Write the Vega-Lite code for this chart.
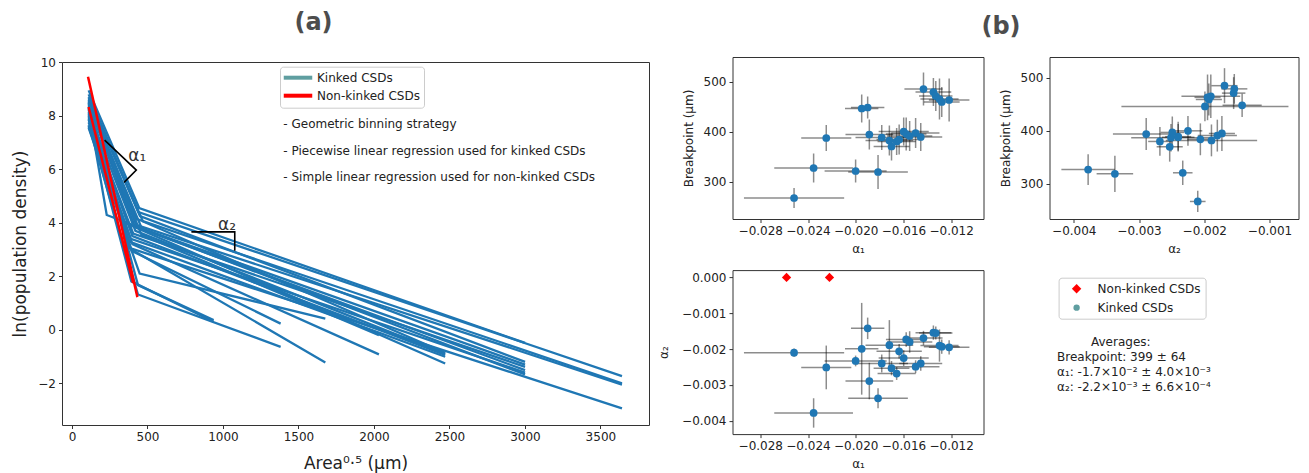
{
  "$schema": "https://vega.github.io/schema/vega-lite/v6.json",
  "background": "white",
  "padding": {"left": 11, "top": 10, "right": 5, "bottom": 5},
  "config": {
    "font": "DejaVu Sans",
    "view": {"stroke": "#333333", "strokeWidth": 1},
    "axis": {"domain": false, "grid": false, "ticks": true, "tickColor": "#333333", "tickSize": 3.5, "tickWidth": 1, "labelColor": "#222222", "labelFontSize": 12, "labelPadding": 3, "titleColor": "#222222", "titleFontWeight": "normal", "labelFont": "DejaVu Sans", "titleFont": "DejaVu Sans", "titleFontSize": 12},
    "legend": {"labelFont": "DejaVu Sans", "labelFontSize": 12, "labelColor": "#222222"},
    "title": {"font": "DejaVu Sans"}
  },
  "datasets": {
    "kinkedLines": [
      {"id": 1, "x": 110, "y": 8.95}, {"id": 1, "x": 445, "y": 4.55}, {"id": 1, "x": 3001, "y": -0.49},
      {"id": 2, "x": 110, "y": 8.80}, {"id": 2, "x": 440, "y": 4.40}, {"id": 2, "x": 3643, "y": -1.73},
      {"id": 3, "x": 110, "y": 8.60}, {"id": 3, "x": 425, "y": 4.15}, {"id": 3, "x": 3643, "y": -2.00},
      {"id": 4, "x": 110, "y": 8.45}, {"id": 4, "x": 410, "y": 3.95}, {"id": 4, "x": 3643, "y": -2.05},
      {"id": 5, "x": 110, "y": 8.10}, {"id": 5, "x": 385, "y": 3.05}, {"id": 5, "x": 3643, "y": -2.94},
      {"id": 6, "x": 110, "y": 8.70}, {"id": 6, "x": 450, "y": 4.25}, {"id": 6, "x": 3001, "y": -1.20},
      {"id": 7, "x": 110, "y": 8.25}, {"id": 7, "x": 230, "y": 4.29}, {"id": 7, "x": 3001, "y": -1.67},
      {"id": 8, "x": 110, "y": 8.40}, {"id": 8, "x": 430, "y": 3.85}, {"id": 8, "x": 3001, "y": -1.30},
      {"id": 9, "x": 110, "y": 7.95}, {"id": 9, "x": 405, "y": 3.60}, {"id": 9, "x": 3001, "y": -1.39},
      {"id": 10, "x": 110, "y": 8.55}, {"id": 10, "x": 465, "y": 3.75}, {"id": 10, "x": 3001, "y": -1.51},
      {"id": 11, "x": 110, "y": 7.75}, {"id": 11, "x": 390, "y": 3.40}, {"id": 11, "x": 3001, "y": -1.60},
      {"id": 12, "x": 110, "y": 8.65}, {"id": 12, "x": 470, "y": 4.05}, {"id": 12, "x": 2472, "y": -0.86},
      {"id": 13, "x": 110, "y": 8.15}, {"id": 13, "x": 420, "y": 3.70}, {"id": 13, "x": 2472, "y": -0.90},
      {"id": 14, "x": 110, "y": 8.00}, {"id": 14, "x": 400, "y": 3.50}, {"id": 14, "x": 2472, "y": -0.94},
      {"id": 15, "x": 110, "y": 7.60}, {"id": 15, "x": 380, "y": 3.30}, {"id": 15, "x": 2472, "y": -1.01},
      {"id": 16, "x": 110, "y": 8.30}, {"id": 16, "x": 330, "y": 4.05}, {"id": 16, "x": 2472, "y": -1.26},
      {"id": 17, "x": 110, "y": 8.50}, {"id": 17, "x": 460, "y": 3.55}, {"id": 17, "x": 2033, "y": -0.20},
      {"id": 18, "x": 110, "y": 7.85}, {"id": 18, "x": 400, "y": 3.20}, {"id": 18, "x": 2033, "y": -0.92},
      {"id": 19, "x": 110, "y": 7.55}, {"id": 19, "x": 448, "y": 2.10}, {"id": 19, "x": 1678, "y": 0.42},
      {"id": 20, "x": 110, "y": 8.05}, {"id": 20, "x": 382, "y": 3.04}, {"id": 20, "x": 1678, "y": -1.22},
      {"id": 21, "x": 110, "y": 8.35}, {"id": 21, "x": 395, "y": 2.95}, {"id": 21, "x": 1382, "y": 0.23},
      {"id": 22, "x": 110, "y": 7.65}, {"id": 22, "x": 437, "y": 1.32}, {"id": 22, "x": 1382, "y": -0.64},
      {"id": 23, "x": 110, "y": 8.50}, {"id": 23, "x": 437, "y": 1.67}, {"id": 23, "x": 938, "y": 0.36},
      {"id": 24, "x": 110, "y": 7.90}, {"id": 24, "x": 393, "y": 1.81}, {"id": 24, "x": 938, "y": 0.30}
    ],
    "nonkinkedLines": [
      {"id": "r1", "x": 106, "y": 9.46}, {"id": "r1", "x": 433, "y": 1.22},
      {"id": "r2", "x": 110, "y": 8.33}, {"id": "r2", "x": 405, "y": 1.75}
    ],
    "angleMarks": [
      {"id": "a1", "ord": 1, "x": 216, "y": 7.09}, {"id": "a1", "ord": 2, "x": 426, "y": 5.97}, {"id": "a1", "ord": 3, "x": 345, "y": 5.51},
      {"id": "a2", "ord": 1, "x": 791, "y": 3.66}, {"id": "a2", "ord": 2, "x": 1078, "y": 3.66}, {"id": "a2", "ord": 3, "x": 1078, "y": 2.95}
    ],
    "angleLabels": [
      {"label": "α₁", "x": 433, "y": 6.5},
      {"label": "α₂", "x": 1027, "y": 3.91}
    ],
    "notes": [
      {"label": "- Geometric binning strategy", "x": 1400, "y": 7.7},
      {"label": "- Piecewise linear regression used for kinked CSDs", "x": 1400, "y": 6.7},
      {"label": "- Simple linear regression used for non-kinked CSDs", "x": 1400, "y": 5.7}
    ],
    "lineLegend": [{"lineType": "Kinked CSDs"}, {"lineType": "Non-kinked CSDs"}],
    "kinked": [
      {"bp": 267, "ebp": 20, "a1": -0.02517, "e1": 0.0042, "a2": -0.00210, "e2": 0.00012},
      {"bp": 327, "ebp": 29, "a1": -0.02353, "e1": 0.0033, "a2": -0.00378, "e2": 0.00041},
      {"bp": 387, "ebp": 26, "a1": -0.02247, "e1": 0.0021, "a2": -0.00251, "e2": 0.00061},
      {"bp": 321, "ebp": 23, "a1": -0.02001, "e1": 0.0026, "a2": -0.00233, "e2": 0.00015},
      {"bp": 319, "ebp": 34, "a1": -0.01813, "e1": 0.0025, "a2": -0.00337, "e2": 0.00028},
      {"bp": 448, "ebp": 22, "a1": -0.01900, "e1": 0.0014, "a2": -0.00142, "e2": 0.00030},
      {"bp": 446, "ebp": 28, "a1": -0.01950, "e1": 0.0014, "a2": -0.00199, "e2": 0.00128},
      {"bp": 394, "ebp": 30, "a1": -0.01886, "e1": 0.0020, "a2": -0.00289, "e2": 0.00051},
      {"bp": 388, "ebp": 25, "a1": -0.01782, "e1": 0.0022, "a2": -0.00240, "e2": 0.00025},
      {"bp": 382, "ebp": 30, "a1": -0.01718, "e1": 0.0020, "a2": -0.00189, "e2": 0.00070},
      {"bp": 370, "ebp": 28, "a1": -0.01700, "e1": 0.0015, "a2": -0.00253, "e2": 0.00020},
      {"bp": 380, "ebp": 27, "a1": -0.01657, "e1": 0.0016, "a2": -0.00268, "e2": 0.00018},
      {"bp": 384, "ebp": 30, "a1": -0.01636, "e1": 0.0019, "a2": -0.00206, "e2": 0.00020},
      {"bp": 400, "ebp": 28, "a1": -0.01598, "e1": 0.0021, "a2": -0.00225, "e2": 0.00022},
      {"bp": 395, "ebp": 33, "a1": -0.01577, "e1": 0.0017, "a2": -0.00173, "e2": 0.00020},
      {"bp": 391, "ebp": 30, "a1": -0.01548, "e1": 0.0019, "a2": -0.00180, "e2": 0.00030},
      {"bp": 397, "ebp": 30, "a1": -0.01498, "e1": 0.0020, "a2": -0.00249, "e2": 0.00018},
      {"bp": 389, "ebp": 28, "a1": -0.01455, "e1": 0.0018, "a2": -0.00240, "e2": 0.00020},
      {"bp": 485, "ebp": 33, "a1": -0.01432, "e1": 0.0016, "a2": -0.00169, "e2": 0.00020},
      {"bp": 479, "ebp": 28, "a1": -0.01349, "e1": 0.0015, "a2": -0.00154, "e2": 0.00020},
      {"bp": 471, "ebp": 30, "a1": -0.01329, "e1": 0.0014, "a2": -0.00155, "e2": 0.00018},
      {"bp": 465, "ebp": 41, "a1": -0.01298, "e1": 0.0016, "a2": -0.00190, "e2": 0.00045},
      {"bp": 459, "ebp": 30, "a1": -0.01279, "e1": 0.0015, "a2": -0.00193, "e2": 0.00020},
      {"bp": 463, "ebp": 43, "a1": -0.01217, "e1": 0.0017, "a2": -0.00195, "e2": 0.00020}
    ],
    "nonkinked": [{"a1": -0.0258, "a2": 0}, {"a1": -0.0222, "a2": 0}],
    "ptLegend": [{"ptType": "Non-kinked CSDs"}, {"ptType": "Kinked CSDs"}],
    "averages": [
      {"part": "head", "label": "Averages:"},
      {"part": "body", "label": "Breakpoint: 399 ± 64\nα₁: -1.7×10⁻² ± 4.0×10⁻³\nα₂: -2.2×10⁻³ ± 6.6×10⁻⁴"}
    ]
  },
  "hconcat": [
    {
      "vconcat": [
        {"width": 587, "height": 1, "view": {"stroke": null}, "data": {"values": []}, "mark": "text", "encoding": {}},
        {
          "width": 587, "height": 363,
          "title": {"text": "(a)", "fontSize": 24, "fontWeight": "bold", "color": "#4d4d4d", "anchor": "middle", "frame": "group", "dx": -42, "offset": 1.95, "baseline": "alphabetic"},
          "encoding": {
            "x": {"field": "x", "type": "quantitative", "scale": {"domain": [-66.3, 3822], "nice": false, "zero": false}, "axis": {"values": [0, 500, 1000, 1500, 2000, 2500, 3000, 3500], "format": "d", "title": "Area⁰·⁵ (μm)", "titleFontSize": 17, "titlePadding": 12.5}},
            "y": {"field": "y", "type": "quantitative", "scale": {"domain": [-3.56, 10.01], "nice": false, "zero": false}, "axis": {"values": [-2, 0, 2, 4, 6, 8, 10], "format": "d", "title": "ln(population density)", "titleFontSize": 17, "titlePadding": 8}}
          },
          "layer": [
            {"data": {"name": "kinkedLines"}, "mark": {"type": "line", "color": "#1f77b4", "strokeWidth": 2.3}, "encoding": {"detail": {"field": "id", "type": "nominal"}}},
            {"data": {"name": "nonkinkedLines"}, "mark": {"type": "line", "color": "#ff0000", "strokeWidth": 2.5}, "encoding": {"detail": {"field": "id", "type": "nominal"}}},
            {"data": {"name": "angleMarks"}, "mark": {"type": "line", "color": "#000000", "strokeWidth": 1.6}, "encoding": {"detail": {"field": "id", "type": "nominal"}, "order": {"field": "ord", "type": "quantitative"}}},
            {"data": {"name": "angleLabels"}, "mark": {"type": "text", "fontSize": 17, "color": "#333333"}, "encoding": {"text": {"field": "label"}}},
            {"data": {"name": "notes"}, "mark": {"type": "text", "fontSize": 12, "align": "left", "color": "#222222"}, "encoding": {"text": {"field": "label"}}},
            {"data": {"name": "lineLegend"}, "mark": {"type": "point", "opacity": 0},
             "encoding": {"color": {"field": "lineType", "type": "nominal", "scale": {"domain": ["Kinked CSDs", "Non-kinked CSDs"], "range": ["#5f9ea0", "#ff0000"]},
               "legend": {"title": null, "orient": "none", "legendX": 218, "legendY": 9.7, "symbolType": "M-2.85,0H2.85", "symbolSize": 100, "symbolStrokeWidth": 4, "symbolOpacity": 1, "symbolOffset": 7, "labelOffset": 12, "rowPadding": 2, "padding": 4, "strokeColor": "#cccccc", "fillColor": "#ffffff", "cornerRadius": 3, "labelFontSize": 12}}}}
          ]
        }
      ],
      "spacing": 4, "bounds": "flush"
    },
    {
      "vconcat": [
        {
          "hconcat": [
            {
              "width": 251, "height": 162,
              "title": {"text": "(b)", "fontSize": 24, "fontWeight": "bold", "color": "#4d4d4d", "anchor": "middle", "frame": "group", "dx": 143, "offset": -1.45, "baseline": "alphabetic"},
              "data": {"name": "kinked"},
              "encoding": {
                "x": {"field": "a1", "type": "quantitative", "scale": {"domain": [-0.03033, -0.00929], "nice": false, "zero": false}, "axis": {"values": [-0.028, -0.024, -0.02, -0.016, -0.012], "format": ".3f", "titlePadding": 7}, "title": "α₁"},
                "y": {"field": "bp", "type": "quantitative", "scale": {"domain": [225, 549], "nice": false, "zero": false}, "axis": {"values": [300, 400, 500], "format": "d", "titlePadding": 8}, "title": "Breakpoint (μm)"}
              },
              "layer": [
                {"mark": {"type": "errorbar", "color": "#000000", "opacity": 0.45, "thickness": 1.5}, "encoding": {"xError": {"field": "e1"}}},
                {"mark": {"type": "errorbar", "color": "#000000", "opacity": 0.45, "thickness": 1.5}, "encoding": {"yError": {"field": "ebp"}}},
                {"mark": {"type": "circle", "color": "#1f77b4", "size": 60, "opacity": 1}}
              ]
            },
            {
              "width": 249, "height": 162,
              "data": {"name": "kinked"},
              "encoding": {
                "x": {"field": "a2", "type": "quantitative", "scale": {"domain": [-0.004372, -0.000556], "nice": false, "zero": false}, "axis": {"values": [-0.004, -0.003, -0.002, -0.001], "format": ".3f", "titlePadding": 7}, "title": "α₂"},
                "y": {"field": "bp", "type": "quantitative", "scale": {"domain": [234, 539], "nice": false, "zero": false}, "axis": {"values": [300, 400, 500], "format": "d", "titlePadding": 8}, "title": "Breakpoint (μm)"}
              },
              "layer": [
                {"mark": {"type": "errorbar", "color": "#000000", "opacity": 0.45, "thickness": 1.5}, "encoding": {"xError": {"field": "e2"}}},
                {"mark": {"type": "errorbar", "color": "#000000", "opacity": 0.45, "thickness": 1.5}, "encoding": {"yError": {"field": "ebp"}}},
                {"mark": {"type": "circle", "color": "#1f77b4", "size": 60, "opacity": 1}}
              ]
            }
          ],
          "spacing": 66, "bounds": "flush"
        },
        {
          "hconcat": [
            {
              "width": 251, "height": 164,
              "data": {"name": "kinked"},
              "encoding": {
                "x": {"field": "a1", "type": "quantitative", "scale": {"domain": [-0.03033, -0.00929], "nice": false, "zero": false}, "axis": {"values": [-0.028, -0.024, -0.02, -0.016, -0.012], "format": ".3f", "titlePadding": 7}, "title": "α₁"},
                "y": {"field": "a2", "type": "quantitative", "scale": {"domain": [-0.00437, 0.000205], "nice": false, "zero": false}, "axis": {"values": [0, -0.001, -0.002, -0.003, -0.004], "format": ".3f", "titlePadding": 11}, "title": "α₂"}
              },
              "layer": [
                {"mark": {"type": "errorbar", "color": "#000000", "opacity": 0.45, "thickness": 1.5}, "encoding": {"xError": {"field": "e1"}}},
                {"mark": {"type": "errorbar", "color": "#000000", "opacity": 0.45, "thickness": 1.5}, "encoding": {"yError": {"field": "e2"}}},
                {"mark": {"type": "circle", "color": "#1f77b4", "size": 60, "opacity": 1}},
                {"data": {"name": "nonkinked"}, "mark": {"type": "point", "shape": "diamond", "filled": true, "color": "#ff0000", "size": 86, "opacity": 1}},
                {"data": {"name": "ptLegend"}, "mark": {"type": "point", "filled": true, "opacity": 0},
                 "encoding": {
                   "fill": {"field": "ptType", "type": "nominal", "scale": {"domain": ["Non-kinked CSDs", "Kinked CSDs"], "range": ["#ff0000", "#5f9ea0"]},
                     "legend": {"title": null, "orient": "none", "legendX": 996.6, "legendY": 220.7, "symbolSize": 60, "symbolOpacity": 1, "symbolOffset": 7, "labelOffset": 15, "rowPadding": 7, "padding": 5, "strokeColor": "#cccccc", "fillColor": "#ffffff", "cornerRadius": 3, "labelFontSize": 12,
                       "encode": {"symbols": {"update": {"shape": {"signal": "datum.value === 'Non-kinked CSDs' ? 'diamond' : 'circle'"}, "size": {"signal": "datum.value === 'Non-kinked CSDs' ? 90 : 40"}}}}}}
                 }}
              ]
            },
            {
              "width": 15, "height": 143, "view": {"stroke": null},
              "data": {"name": "averages"},
              "layer": [
                {"transform": [{"filter": "datum.part === 'head'"}], "mark": {"type": "text", "align": "left", "baseline": "middle", "fontSize": 12, "dx": 34, "color": "#222222"}, "encoding": {"text": {"field": "label"}}},
                {"transform": [{"filter": "datum.part === 'body'"}], "mark": {"type": "text", "align": "left", "baseline": "middle", "lineBreak": "\n", "fontSize": 12, "lineHeight": 15, "dy": 15.3, "color": "#222222"}, "encoding": {"text": {"field": "label"}}}
              ]
            }
          ],
          "spacing": 66, "bounds": "flush"
        }
      ],
      "spacing": 14.1
    }
  ],
  "spacing": 6.5
}
